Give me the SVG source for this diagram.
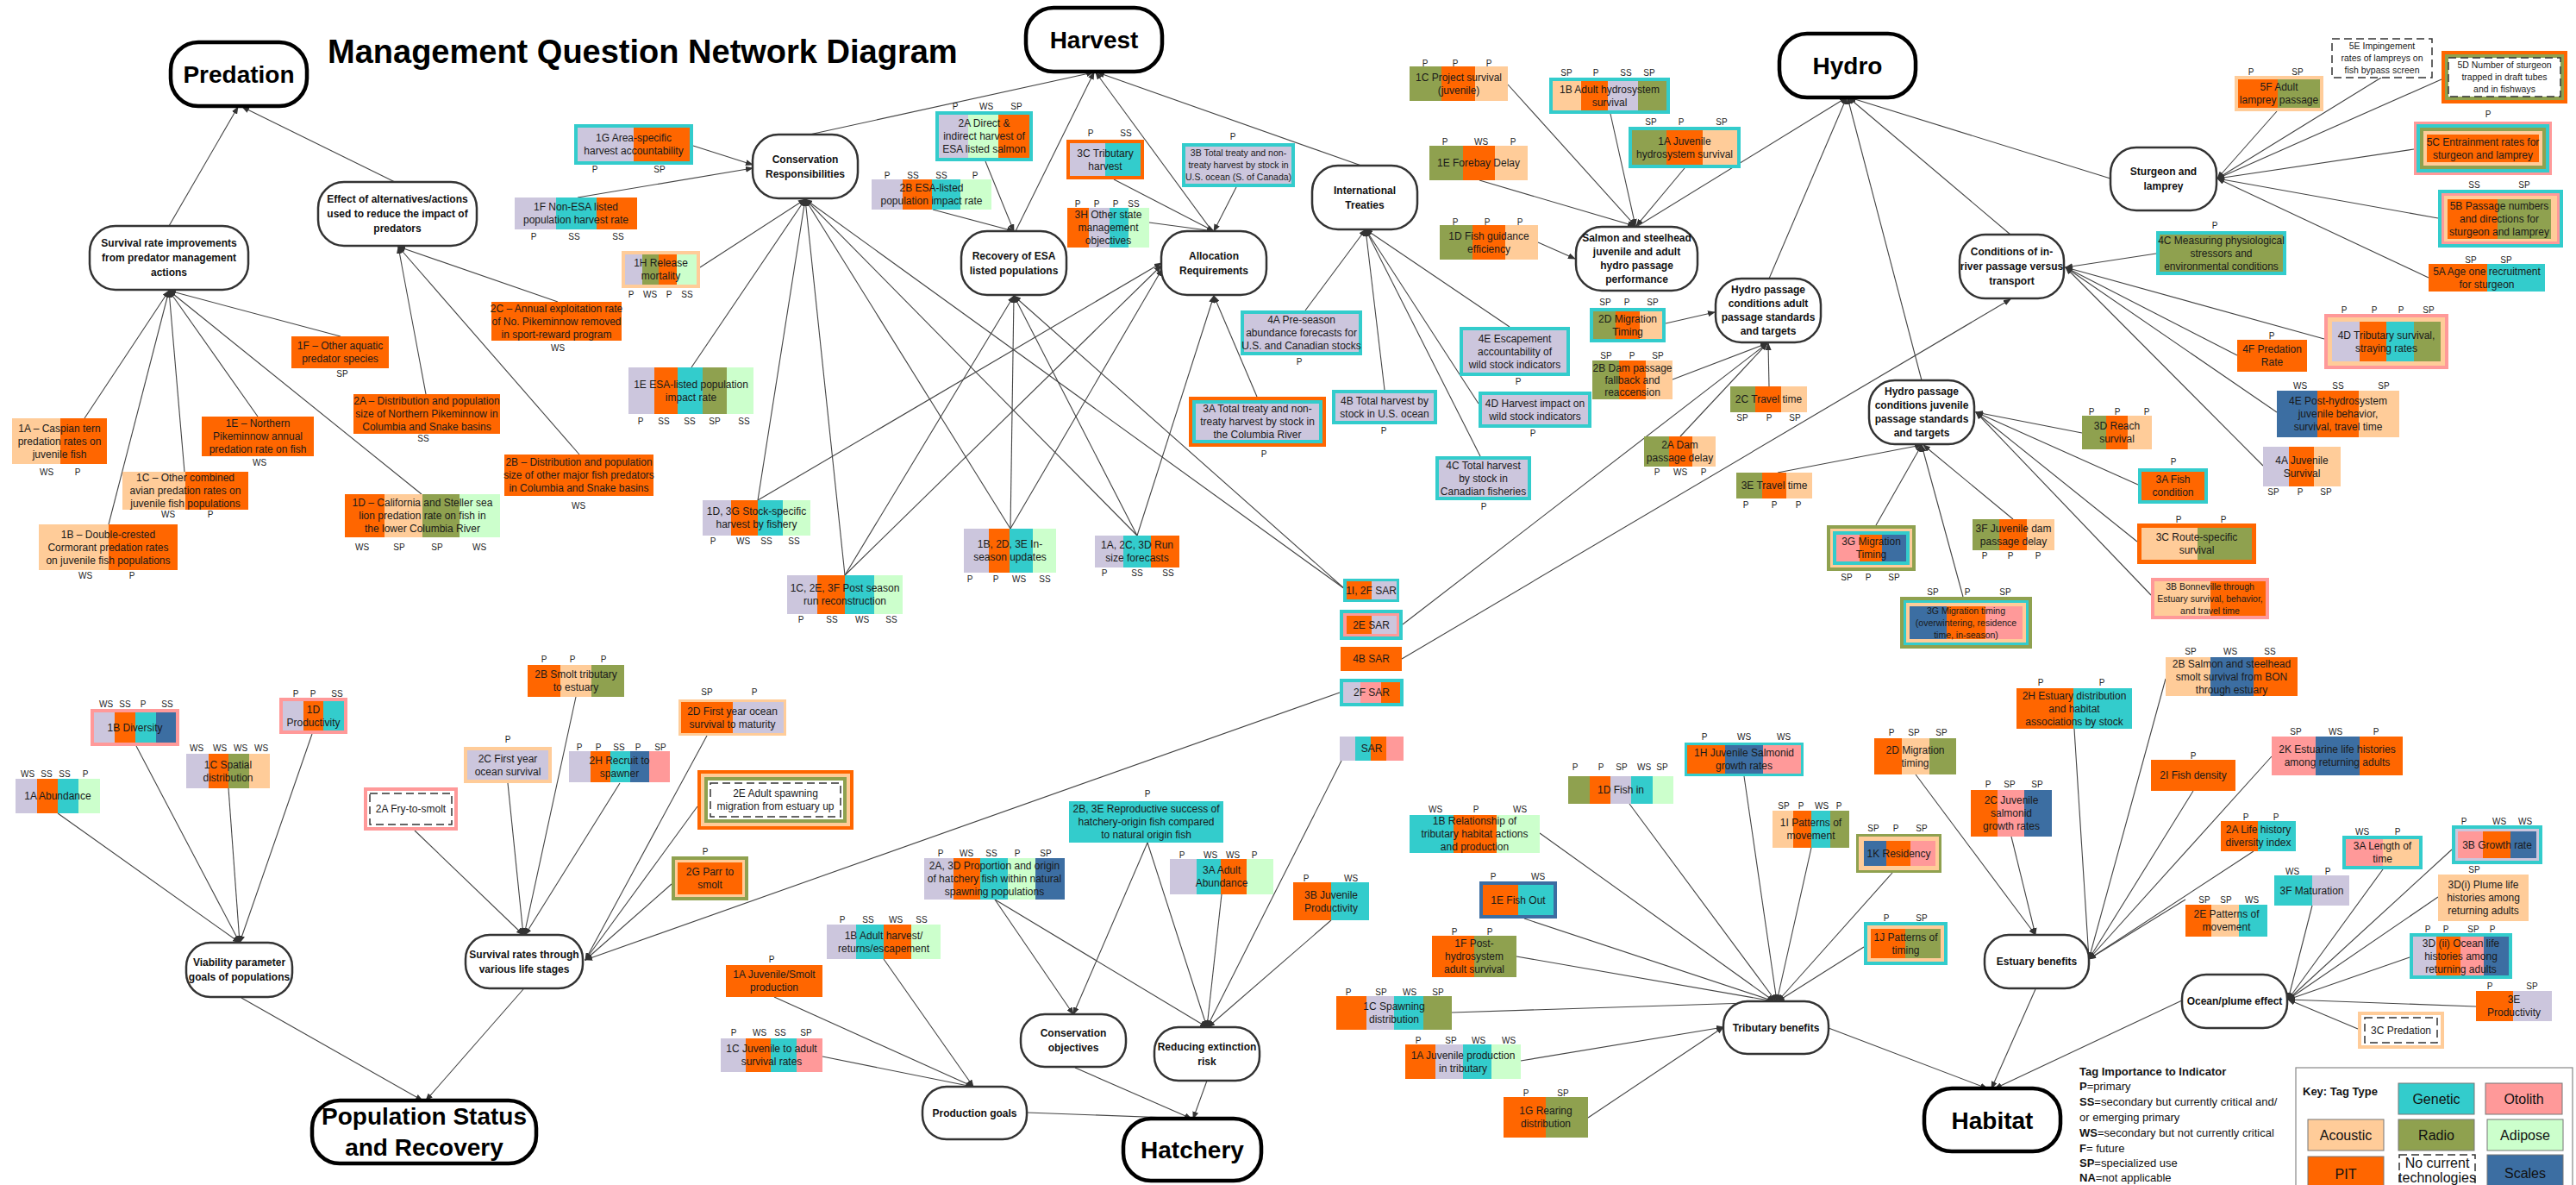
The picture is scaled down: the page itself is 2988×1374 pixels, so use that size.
<svg xmlns="http://www.w3.org/2000/svg" width="2988" height="1374" viewBox="0 0 2988 1374">
<defs>
<marker id="ah" markerUnits="userSpaceOnUse" markerWidth="9" markerHeight="7" refX="8" refY="3.5" orient="auto"><path d="M0,0 L9,3.5 L0,7 z" fill="#333"/></marker>
<style>
.gen{fill:#33CCCC}.oto{fill:#FF9999}.aco{fill:#FFCC99}.rad{fill:#8FA14F}.adi{fill:#CCFFCC}.pit{fill:#FF6600}.sca{fill:#3C6EA2}.lav{fill:#CCC6DD}.wht{fill:#fff}
.d{fill:#fff;stroke:#333;stroke-width:1.5;stroke-dasharray:9 5}
.i{font-family:'Liberation Sans',Arial,sans-serif;font-size:12px;fill:#1a1a1a;text-anchor:middle}
.sm{font-size:10.5px}
.s{font-family:'Liberation Sans',Arial,sans-serif;font-size:10px;fill:#222;text-anchor:middle}
.n{fill:#fff;stroke:#333;stroke-width:2.5}
.N{fill:#fff;stroke:#000;stroke-width:4.5}
.nt{font-family:'Liberation Sans',Arial,sans-serif;font-size:12px;font-weight:bold;fill:#111;text-anchor:middle}
.bt{font-family:'Liberation Sans',Arial,sans-serif;font-size:28px;font-weight:bold;fill:#000;text-anchor:middle}
.c line{stroke:#444;stroke-width:1.1;marker-end:url(#ah)}
.lg{font-family:'Liberation Sans',Arial,sans-serif;font-size:13px;fill:#111}
.kt{font-family:'Liberation Sans',Arial,sans-serif;font-size:16px;fill:#111;text-anchor:middle}
.kb{stroke:#777;stroke-width:1}
</style>
</defs>
<rect width="2988" height="1374" fill="#fff"/>
<text x="380" y="73" font-family="'Liberation Sans',Arial,sans-serif" font-size="38" font-weight="bold" fill="#000">Management Question Network Diagram</text>

<g id="connectors" class="c">
<line x1="196" y1="262" x2="276" y2="124"/><line x1="458" y1="211" x2="281" y2="124"/>
<line x1="98" y1="485" x2="196" y2="337"/><line x1="126" y1="608" x2="196" y2="337"/><line x1="214" y1="547" x2="196" y2="337"/><line x1="299" y1="483" x2="196" y2="337"/><line x1="489" y1="573" x2="196" y2="337"/><line x1="395" y1="390" x2="196" y2="337"/>
<line x1="494" y1="457" x2="462" y2="286"/><line x1="672" y1="527" x2="462" y2="286"/><line x1="647" y1="350" x2="462" y2="286"/>
<line x1="939" y1="156" x2="1268" y2="84"/><line x1="1178" y1="268" x2="1269" y2="84"/><line x1="1406" y1="268" x2="1271" y2="84"/><line x1="1579" y1="192" x2="1273" y2="84"/>
<line x1="804" y1="169" x2="873" y2="191"/><line x1="670" y1="229" x2="873" y2="195"/><line x1="812" y1="310" x2="934" y2="231"/>
<line x1="802" y1="426" x2="934" y2="231"/><line x1="879" y1="580" x2="934" y2="231"/><line x1="980" y1="667" x2="934" y2="231"/><line x1="1172" y1="613" x2="934" y2="231"/><line x1="1319" y1="621" x2="934" y2="231"/><line x1="1560" y1="683" x2="934" y2="231"/>
<line x1="980" y1="667" x2="1176" y2="343"/><line x1="1172" y1="613" x2="1176" y2="343"/><line x1="1319" y1="621" x2="1176" y2="343"/><line x1="1560" y1="683" x2="1176" y2="343"/>
<line x1="879" y1="580" x2="1347" y2="305"/><line x1="980" y1="667" x2="1347" y2="308"/><line x1="1172" y1="613" x2="1348" y2="312"/><line x1="1319" y1="621" x2="1408" y2="343"/><line x1="1458" y1="460" x2="1408" y2="343"/>
<line x1="1434" y1="217" x2="1408" y2="268"/><line x1="1292" y1="208" x2="1408" y2="268"/><line x1="1333" y1="258" x2="1408" y2="268"/>
<line x1="1143" y1="187" x2="1176" y2="268"/><line x1="1082" y1="243" x2="1176" y2="268"/>
<line x1="1514" y1="360" x2="1584" y2="266"/><line x1="1606" y1="452" x2="1584" y2="266"/><line x1="1717" y1="529" x2="1584" y2="266"/><line x1="1715" y1="468" x2="1584" y2="266"/><line x1="1751" y1="379" x2="1584" y2="266"/>
<line x1="1898" y1="263" x2="2142" y2="113"/><line x1="2052" y1="323" x2="2142" y2="113"/><line x1="2229" y1="441" x2="2143" y2="113"/><line x1="2332" y1="272" x2="2144" y2="113"/><line x1="2448" y1="207" x2="2145" y2="113"/>
<line x1="1749" y1="98" x2="1897" y2="262"/><line x1="1868" y1="132" x2="1897" y2="262"/><line x1="1954" y1="195" x2="1898" y2="262"/><line x1="1716" y1="209" x2="1896" y2="262"/><line x1="1784" y1="281" x2="1827" y2="300"/>
<line x1="1932" y1="375" x2="1989" y2="362"/><line x1="1940" y1="440" x2="2050" y2="398"/><line x1="2052" y1="448" x2="2051" y2="398"/><line x1="1949" y1="506" x2="2050" y2="398"/><line x1="1627" y1="724" x2="2050" y2="398"/>
<line x1="2062" y1="548" x2="2229" y2="516"/><line x1="2176" y1="609" x2="2229" y2="516"/><line x1="2277" y1="692" x2="2229" y2="516"/><line x1="2335" y1="602" x2="2231" y2="516"/>
<line x1="2415" y1="502" x2="2292" y2="478"/><line x1="2480" y1="562" x2="2292" y2="478"/><line x1="2479" y1="628" x2="2292" y2="478"/><line x1="2495" y1="690" x2="2292" y2="478"/>
<line x1="2501" y1="294" x2="2396" y2="310"/><line x1="2696" y1="393" x2="2396" y2="310"/><line x1="2595" y1="412" x2="2396" y2="310"/><line x1="2641" y1="478" x2="2396" y2="310"/><line x1="2625" y1="540" x2="2396" y2="310"/>
<line x1="1626" y1="764" x2="2332" y2="347"/>
<line x1="2641" y1="129" x2="2572" y2="207"/><line x1="2762" y1="90" x2="2572" y2="207"/><line x1="2832" y1="92" x2="2572" y2="207"/><line x1="2800" y1="173" x2="2572" y2="207"/><line x1="2828" y1="253" x2="2572" y2="207"/><line x1="2817" y1="322" x2="2572" y2="207"/>
<line x1="1786" y1="966" x2="2058" y2="1161"/><line x1="1768" y1="1065" x2="2058" y2="1161"/><line x1="1759" y1="1109" x2="2058" y2="1161"/><line x1="1890" y1="932" x2="2060" y2="1161"/><line x1="2023" y1="900" x2="2061" y2="1161"/><line x1="2101" y1="983" x2="2061" y2="1161"/><line x1="2195" y1="1012" x2="2062" y2="1161"/><line x1="2162" y1="1098" x2="2062" y2="1161"/>
<line x1="1684" y1="1174" x2="2056" y2="1162"/><line x1="1764" y1="1230" x2="1999" y2="1191"/><line x1="1842" y1="1296" x2="1999" y2="1191"/>
<line x1="2121" y1="1192" x2="2305" y2="1262"/>
<line x1="2406" y1="845" x2="2423" y2="1112"/><line x1="2512" y1="787" x2="2423" y2="1112"/><line x1="2544" y1="917" x2="2423" y2="1112"/><line x1="2635" y1="877" x2="2423" y2="1112"/><line x1="2614" y1="987" x2="2423" y2="1112"/><line x1="2535" y1="1043" x2="2423" y2="1112"/>
<line x1="2222" y1="898" x2="2361" y2="1084"/><line x1="2333" y1="970" x2="2361" y2="1084"/>
<line x1="2361" y1="1147" x2="2310" y2="1262"/><line x1="2531" y1="1160" x2="2314" y2="1262"/>
<line x1="2682" y1="1050" x2="2654" y2="1159"/><line x1="2764" y1="1008" x2="2654" y2="1159"/><line x1="2844" y1="985" x2="2654" y2="1159"/><line x1="2828" y1="1040" x2="2654" y2="1159"/><line x1="2795" y1="1110" x2="2654" y2="1159"/><line x1="2872" y1="1167" x2="2654" y2="1159"/><line x1="2735" y1="1193" x2="2654" y2="1159"/>
<line x1="67" y1="943" x2="278" y2="1093"/><line x1="158" y1="865" x2="278" y2="1093"/><line x1="265" y1="914" x2="278" y2="1093"/><line x1="362" y1="851" x2="278" y2="1093"/>
<line x1="280" y1="1157" x2="490" y2="1276"/><line x1="607" y1="1147" x2="494" y2="1276"/>
<line x1="481" y1="963" x2="607" y2="1084"/><line x1="589" y1="908" x2="607" y2="1084"/><line x1="668" y1="808" x2="608" y2="1084"/><line x1="719" y1="908" x2="609" y2="1084"/>
<line x1="820" y1="853" x2="679" y2="1113"/><line x1="809" y1="935" x2="679" y2="1113"/><line x1="779" y1="1025" x2="679" y2="1113"/><line x1="1554" y1="803" x2="679" y2="1113"/>
<line x1="898" y1="1156" x2="1129" y2="1260"/><line x1="1025" y1="1112" x2="1129" y2="1260"/><line x1="954" y1="1225" x2="1128" y2="1260"/>
<line x1="1191" y1="1290" x2="1382" y2="1297"/><line x1="1247" y1="1238" x2="1382" y2="1297"/><line x1="1400" y1="1253" x2="1384" y2="1297"/>
<line x1="1154" y1="1043" x2="1245" y2="1176"/><line x1="1331" y1="977" x2="1245" y2="1176"/>
<line x1="1154" y1="1043" x2="1400" y2="1191"/><line x1="1331" y1="977" x2="1400" y2="1191"/><line x1="1417" y1="1037" x2="1400" y2="1191"/><line x1="1556" y1="882" x2="1400" y2="1191"/><line x1="1544" y1="1067" x2="1401" y2="1191"/>
</g>

<!-- Major nodes -->
<g id="predation"><rect class="N" x="198" y="49" width="158" height="74" rx="32"/><text class="bt" x="277" y="96">Predation</text></g>
<g id="harvest"><rect class="N" x="1190" y="9" width="158" height="74" rx="32"/><text class="bt" x="1269" y="56">Harvest</text></g>
<g id="hydro"><rect class="N" x="2064" y="39" width="158" height="74" rx="32"/><text class="bt" x="2143" y="86">Hydro</text></g>
<g id="popstatus"><rect class="N" x="362" y="1276" width="260" height="73" rx="32"/><text class="bt" x="492" y="1304" font-size="30">Population Status</text><text class="bt" x="492" y="1340" font-size="30">and Recovery</text></g>
<g id="hatchery"><rect class="N" x="1303" y="1297" width="160" height="72" rx="32"/><text class="bt" x="1383" y="1343" font-size="31">Hatchery</text></g>
<g id="habitat"><rect class="N" x="2232" y="1262" width="158" height="73" rx="32"/><text class="bt" x="2311" y="1309" font-size="31">Habitat</text></g>

<!-- Mid nodes -->
<g id="n-survimp"><rect class="n" x="104" y="262" width="184" height="74" rx="30"/><text class="nt" y="286"><tspan x="196">Survival rate improvements</tspan><tspan x="196" dy="17">from predator management</tspan><tspan x="196" dy="17">actions</tspan></text></g>
<g id="n-effect"><rect class="n" x="369" y="211" width="184" height="74" rx="30"/><text class="nt" y="235"><tspan x="461">Effect of alternatives/actions</tspan><tspan x="461" dy="17">used to reduce the impact of</tspan><tspan x="461" dy="17">predators</tspan></text></g>
<g id="n-consresp"><rect class="n" x="873" y="156" width="122" height="74" rx="30"/><text class="nt" y="188.5"><tspan x="934">Conservation</tspan><tspan x="934" dy="17">Responsibilities</tspan></text></g>
<g id="n-recovery"><rect class="n" x="1115" y="268" width="122" height="74" rx="30"/><text class="nt" y="300.5"><tspan x="1176">Recovery of ESA</tspan><tspan x="1176" dy="17">listed populations</tspan></text></g>
<g id="n-alloc"><rect class="n" x="1347" y="268" width="122" height="74" rx="30"/><text class="nt" y="300.5"><tspan x="1408">Allocation</tspan><tspan x="1408" dy="17">Requirements</tspan></text></g>
<g id="n-intl"><rect class="n" x="1522" y="192" width="122" height="74" rx="30"/><text class="nt" y="224.5"><tspan x="1583">International</tspan><tspan x="1583" dy="17">Treaties</tspan></text></g>
<g id="n-salmon"><rect class="n" x="1828" y="263" width="141" height="74" rx="30"/><text class="nt" y="280"><tspan x="1898.5">Salmon and steelhead</tspan><tspan x="1898.5" dy="16">juvenile and adult</tspan><tspan x="1898.5" dy="16">hydro passage</tspan><tspan x="1898.5" dy="16">performance</tspan></text></g>
<g id="n-hpadult"><rect class="n" x="1990" y="323" width="122" height="74" rx="30"/><text class="nt" y="340"><tspan x="2051">Hydro passage</tspan><tspan x="2051" dy="16">conditions adult</tspan><tspan x="2051" dy="16">passage standards</tspan><tspan x="2051" dy="16">and targets</tspan></text></g>
<g id="n-hpjuv"><rect class="n" x="2168" y="441" width="122" height="74" rx="30"/><text class="nt" y="458"><tspan x="2229">Hydro passage</tspan><tspan x="2229" dy="16">conditions juvenile</tspan><tspan x="2229" dy="16">passage standards</tspan><tspan x="2229" dy="16">and targets</tspan></text></g>
<g id="n-sturgeon"><rect class="n" x="2448" y="171" width="123" height="73" rx="30"/><text class="nt" y="203"><tspan x="2509.5">Sturgeon and</tspan><tspan x="2509.5" dy="17">lamprey</tspan></text></g>
<g id="n-conditions"><rect class="n" x="2273" y="272" width="121" height="74" rx="30"/><text class="nt" y="296"><tspan x="2333.5">Conditions of in-</tspan><tspan x="2333.5" dy="17">river passage versus</tspan><tspan x="2333.5" dy="17">transport</tspan></text></g>
<g id="n-viability"><rect class="n" x="216" y="1093" width="123" height="63" rx="28"/><text class="nt" y="1120"><tspan x="277.5">Viability parameter</tspan><tspan x="277.5" dy="17">goals of populations</tspan></text></g>
<g id="n-survrates"><rect class="n" x="540" y="1084" width="136" height="62" rx="28"/><text class="nt" y="1110.5"><tspan x="608">Survival rates through</tspan><tspan x="608" dy="17">various life stages</tspan></text></g>
<g id="n-prodgoals"><rect class="n" x="1070" y="1260" width="121" height="61" rx="28"/><text class="nt" x="1130.5" y="1294.5">Production goals</text></g>
<g id="n-consobj"><rect class="n" x="1184" y="1176" width="122" height="61" rx="28"/><text class="nt" y="1202"><tspan x="1245">Conservation</tspan><tspan x="1245" dy="17">objectives</tspan></text></g>
<g id="n-reducing"><rect class="n" x="1339" y="1191" width="122" height="62" rx="28"/><text class="nt" y="1217.5"><tspan x="1400">Reducing extinction</tspan><tspan x="1400" dy="17">risk</tspan></text></g>
<g id="n-tributary"><rect class="n" x="1999" y="1161" width="122" height="61" rx="28"/><text class="nt" x="2060" y="1195.5">Tributary benefits</text></g>
<g id="n-estuary"><rect class="n" x="2302" y="1084" width="121" height="62" rx="28"/><text class="nt" x="2362.5" y="1119">Estuary benefits</text></g>
<g id="n-ocean"><rect class="n" x="2531" y="1130" width="122" height="62" rx="28"/><text class="nt" x="2592" y="1165">Ocean/plume effect</text></g>

<!-- Predation indicators -->
<g id="pr-1A"><rect class="aco" x="14" y="485" width="56" height="53"/><rect class="pit" x="70" y="485" width="54" height="53"/><text class="i" y="500.5"><tspan x="69">1A – Caspian tern</tspan><tspan x="69" dy="15">predation rates on</tspan><tspan x="69" dy="15">juvenile fish</tspan></text><text class="s" y="551"><tspan x="54">WS</tspan><tspan x="90">P</tspan></text></g>
<g id="pr-1E"><rect class="pit" x="234" y="483" width="130" height="46"/><text class="i" y="495"><tspan x="299">1E – Northern</tspan><tspan x="299" dy="15">Pikeminnow annual</tspan><tspan x="299" dy="15">predation rate on fish</tspan></text><text class="s" x="301" y="540">WS</text></g>
<g id="pr-2A"><rect class="pit" x="410" y="457" width="170" height="46"/><text class="i" y="469" font-size="11"><tspan x="495">2A – Distribution and population</tspan><tspan x="495" dy="15">size of Northern Pikeminnow in</tspan><tspan x="495" dy="15">Columbia and Snake basins</tspan></text><text class="s" x="491" y="512">SS</text></g>
<g id="pr-1C"><rect class="aco" x="142" y="547" width="73" height="44"/><rect class="pit" x="215" y="547" width="73" height="44"/><text class="i" y="558"><tspan x="215">1C – Other combined</tspan><tspan x="215" dy="15">avian predation rates on</tspan><tspan x="215" dy="15">juvenile fish populations</tspan></text><text class="s" y="600"><tspan x="195">WS</tspan><tspan x="244">P</tspan></text></g>
<g id="pr-2B"><rect class="pit" x="585" y="527" width="173" height="48"/><text class="i" y="540" font-size="11"><tspan x="671.5">2B – Distribution and population</tspan><tspan x="671.5" dy="15">size of other major fish predators</tspan><tspan x="671.5" dy="15">in Columbia and Snake basins</tspan></text><text class="s" x="671" y="590">WS</text></g>
<g id="pr-1D"><rect class="pit" x="400" y="573" width="46" height="50"/><rect class="aco" x="446" y="573" width="44" height="50"/><rect class="rad" x="490" y="573" width="43" height="50"/><rect class="adi" x="533" y="573" width="47" height="50"/><text class="i" y="587"><tspan x="490">1D – California and Steller sea</tspan><tspan x="490" dy="15">lion predation rate on fish in</tspan><tspan x="490" dy="15">the lower Columbia River</tspan></text><text class="s" y="638"><tspan x="420">WS</tspan><tspan x="463">SP</tspan><tspan x="507">SP</tspan><tspan x="556">WS</tspan></text></g>
<g id="pr-1B"><rect class="aco" x="45" y="608" width="81" height="53"/><rect class="pit" x="126" y="608" width="80" height="53"/><text class="i" y="623.5"><tspan x="125.5">1B – Double-crested</tspan><tspan x="125.5" dy="15">Cormorant predation rates</tspan><tspan x="125.5" dy="15">on juvenile fish populations</tspan></text><text class="s" y="671"><tspan x="99">WS</tspan><tspan x="153">P</tspan></text></g>
<g id="pr-1F"><rect class="pit" x="338" y="390" width="113" height="37"/><text class="i" y="405"><tspan x="394.5">1F – Other aquatic</tspan><tspan x="394.5" dy="15">predator species</tspan></text><text class="s" x="397" y="437">SP</text></g>
<g id="pr-2C"><rect class="pit" x="570" y="350" width="151" height="45"/><text class="i" y="361.5" font-size="11"><tspan x="645.5">2C – Annual exploitation rate</tspan><tspan x="645.5" dy="15">of No. Pikeminnow removed</tspan><tspan x="645.5" dy="15">in sport-reward program</tspan></text><text class="s" x="647" y="407">WS</text></g>

<!-- Harvest indicators -->
<g id="hv-1G"><rect class="gen" x="666" y="144" width="138" height="47"/><rect class="lav" x="670" y="148" width="65" height="39"/><rect class="pit" x="735" y="148" width="65" height="39"/><text class="i" y="164"><tspan x="735">1G Area-specific</tspan><tspan x="735" dy="15">harvest accountability</tspan></text><text class="s" y="200"><tspan x="690">P</tspan><tspan x="765">SP</tspan></text></g>
<g id="hv-1F"><rect class="lav" x="597" y="229" width="48" height="37"/><rect class="gen" x="645" y="229" width="47" height="37"/><rect class="pit" x="692" y="229" width="47" height="37"/><text class="i" y="244"><tspan x="668">1F Non-ESA listed</tspan><tspan x="668" dy="15">population harvest rate</tspan></text><text class="s" y="278"><tspan x="619">P</tspan><tspan x="666">SS</tspan><tspan x="717">SS</tspan></text></g>
<g id="hv-1H"><rect class="aco" x="721" y="291" width="91" height="43"/><rect class="lav" x="725" y="295" width="20" height="35"/><rect class="rad" x="745" y="295" width="19" height="35"/><rect class="pit" x="764" y="295" width="21" height="35"/><rect class="adi" x="785" y="295" width="23" height="35"/><text class="i" y="309"><tspan x="766.5">1H Release</tspan><tspan x="766.5" dy="15">mortality</tspan></text><text class="s" y="345"><tspan x="732">P</tspan><tspan x="754">WS</tspan><tspan x="776">P</tspan><tspan x="797">SS</tspan></text></g>
<g id="hv-1E"><rect class="lav" x="729" y="426" width="30" height="54"/><rect class="pit" x="759" y="426" width="27" height="54"/><rect class="gen" x="786" y="426" width="29" height="54"/><rect class="rad" x="815" y="426" width="28" height="54"/><rect class="adi" x="843" y="426" width="31" height="54"/><text class="i" y="449.5"><tspan x="801.5">1E ESA-listed population</tspan><tspan x="801.5" dy="15">impact rate</tspan></text><text class="s" y="492"><tspan x="743">P</tspan><tspan x="770">SS</tspan><tspan x="800">SS</tspan><tspan x="829">SP</tspan><tspan x="863">SS</tspan></text></g>
<g id="hv-2A"><rect class="gen" x="1085" y="129" width="113" height="58"/><rect class="lav" x="1089" y="133" width="34" height="50"/><rect class="adi" x="1123" y="133" width="35" height="50"/><rect class="pit" x="1158" y="133" width="36" height="50"/><text class="i" y="147"><tspan x="1141.5">2A Direct &amp;</tspan><tspan x="1141.5" dy="15">indirect harvest of</tspan><tspan x="1141.5" dy="15">ESA listed salmon</tspan></text><text class="s" y="126.5"><tspan x="1108">P</tspan><tspan x="1144">WS</tspan><tspan x="1179">SP</tspan></text></g>
<g id="hv-2B"><rect class="lav" x="1011" y="208" width="36" height="35"/><rect class="pit" x="1047" y="208" width="34" height="35"/><rect class="gen" x="1081" y="208" width="33" height="35"/><rect class="adi" x="1114" y="208" width="36" height="35"/><text class="i" y="222"><tspan x="1080.5">2B ESA-listed</tspan><tspan x="1080.5" dy="15">population impact rate</tspan></text><text class="s" y="206.5"><tspan x="1029">P</tspan><tspan x="1059">SS</tspan><tspan x="1092">SS</tspan><tspan x="1131">P</tspan></text></g>
<g id="hv-3C"><rect class="pit" x="1237" y="162" width="90" height="46"/><rect class="lav" x="1241" y="166" width="41" height="38"/><rect class="gen" x="1282" y="166" width="41" height="38"/><text class="i" y="181.5"><tspan x="1282">3C Tributary</tspan><tspan x="1282" dy="15">harvest</tspan></text><text class="s" y="158"><tspan x="1265">P</tspan><tspan x="1306">SS</tspan></text></g>
<g id="hv-3H"><rect class="pit" x="1238" y="241" width="25" height="46"/><rect class="lav" x="1263" y="241" width="24" height="46"/><rect class="gen" x="1287" y="241" width="22" height="46"/><rect class="adi" x="1309" y="241" width="24" height="46"/><text class="i" y="253"><tspan x="1285.5">3H Other state</tspan><tspan x="1285.5" dy="15">management</tspan><tspan x="1285.5" dy="15">objectives</tspan></text><text class="s" y="239.5"><tspan x="1250">P</tspan><tspan x="1272">P</tspan><tspan x="1294">P</tspan><tspan x="1315">SS</tspan></text></g>
<g id="hv-3B"><rect class="gen" x="1371" y="166" width="131" height="51"/><rect class="lav" x="1375" y="170" width="123" height="43"/><text class="i sm" y="181"><tspan x="1436.5">3B Total treaty and non-</tspan><tspan x="1436.5" dy="14">treaty harvest by stock in</tspan><tspan x="1436.5" dy="14">U.S. ocean (S. of Canada)</tspan></text><text class="s" x="1430" y="161.5">P</text></g>
<g id="hv-4A"><rect class="gen" x="1439" y="360" width="141" height="52"/><rect class="lav" x="1443" y="364" width="133" height="44"/><text class="i" y="375"><tspan x="1509.5">4A Pre-season</tspan><tspan x="1509.5" dy="15">abundance forecasts for</tspan><tspan x="1509.5" dy="15">U.S. and Canadian stocks</tspan></text><text class="s" x="1507" y="423">P</text></g>
<g id="hv-3A"><rect class="pit" x="1379" y="460" width="159" height="58"/><rect class="gen" x="1383" y="464" width="151" height="50"/><rect class="lav" x="1387" y="468" width="143" height="42"/><text class="i" y="478"><tspan x="1458.5">3A Total treaty and non-</tspan><tspan x="1458.5" dy="15">treaty harvest by stock in</tspan><tspan x="1458.5" dy="15">the Columbia River</tspan></text><text class="s" x="1466" y="530">P</text></g>
<g id="hv-4B"><rect class="gen" x="1545" y="452" width="122" height="40"/><rect class="lav" x="1549" y="456" width="114" height="32"/><text class="i" y="468.5"><tspan x="1606">4B Total harvest by</tspan><tspan x="1606" dy="15">stock in U.S. ocean</tspan></text><text class="s" x="1605" y="503">P</text></g>
<g id="hv-4D"><rect class="gen" x="1715" y="454" width="131" height="42"/><rect class="lav" x="1719" y="458" width="123" height="34"/><text class="i" y="471.5"><tspan x="1780.5">4D Harvest impact on</tspan><tspan x="1780.5" dy="15">wild stock indicators</tspan></text><text class="s" x="1778" y="506">P</text></g>
<g id="hv-4C"><rect class="gen" x="1665" y="529" width="111" height="51"/><rect class="lav" x="1669" y="533" width="103" height="43"/><text class="i" y="543.5"><tspan x="1720.5">4C Total harvest</tspan><tspan x="1720.5" dy="15">by stock in</tspan><tspan x="1720.5" dy="15">Canadian fisheries</tspan></text><text class="s" x="1721" y="591">P</text></g>
<g id="hv-4E"><rect class="gen" x="1693" y="379" width="128" height="57"/><rect class="lav" x="1697" y="383" width="120" height="49"/><text class="i" y="396.5"><tspan x="1757">4E Escapement</tspan><tspan x="1757" dy="15">accountability of</tspan><tspan x="1757" dy="15">wild stock indicators</tspan></text><text class="s" x="1761" y="446">P</text></g>
<g id="hv-1D3G"><rect class="lav" x="815" y="580" width="33" height="41"/><rect class="pit" x="848" y="580" width="31" height="41"/><rect class="gen" x="879" y="580" width="29" height="41"/><rect class="adi" x="908" y="580" width="32" height="41"/><text class="i" y="597"><tspan x="877.5">1D, 3G Stock-specific</tspan><tspan x="877.5" dy="15">harvest by fishery</tspan></text><text class="s" y="631"><tspan x="827">P</tspan><tspan x="862">WS</tspan><tspan x="889">SS</tspan><tspan x="921">SS</tspan></text></g>
<g id="hv-1C2E3F"><rect class="lav" x="913" y="667" width="35" height="45"/><rect class="pit" x="948" y="667" width="32" height="45"/><rect class="gen" x="980" y="667" width="34" height="45"/><rect class="adi" x="1014" y="667" width="33" height="45"/><text class="i" y="686"><tspan x="980">1C, 2E, 3F Post season</tspan><tspan x="980" dy="15">run reconstruction</tspan></text><text class="s" y="722"><tspan x="929">P</tspan><tspan x="965">SS</tspan><tspan x="1000">WS</tspan><tspan x="1034">SS</tspan></text></g>
<g id="hv-1B2D3E"><rect class="lav" x="1118" y="613" width="29" height="51"/><rect class="pit" x="1147" y="613" width="24" height="51"/><rect class="gen" x="1171" y="613" width="27" height="51"/><rect class="adi" x="1198" y="613" width="27" height="51"/><text class="i" y="635"><tspan x="1171.5">1B, 2D, 3E In-</tspan><tspan x="1171.5" dy="15">season updates</tspan></text><text class="s" y="675"><tspan x="1125">P</tspan><tspan x="1155">P</tspan><tspan x="1182">WS</tspan><tspan x="1212">SS</tspan></text></g>
<g id="hv-1A2C3D"><rect class="lav" x="1270" y="621" width="33" height="37"/><rect class="gen" x="1303" y="621" width="32" height="37"/><rect class="pit" x="1335" y="621" width="33" height="37"/><text class="i" y="636"><tspan x="1319">1A, 2C, 3D Run</tspan><tspan x="1319" dy="15">size forecasts</tspan></text><text class="s" y="668"><tspan x="1281">P</tspan><tspan x="1319">SS</tspan><tspan x="1355">SS</tspan></text></g>

<!-- SAR -->
<g id="sar-1I2F"><rect class="gen" x="1558" y="671" width="65" height="27"/><rect class="pit" x="1562" y="674" width="29" height="21"/><rect class="lav" x="1591" y="674" width="29" height="21"/><text class="i" x="1590.5" y="688.5">1I, 2F SAR</text></g>
<g id="sar-2E"><rect class="gen" x="1554" y="707" width="73" height="35"/><rect class="oto" x="1558" y="711" width="65" height="27"/><rect class="pit" x="1562" y="714" width="29" height="21"/><rect class="lav" x="1591" y="714" width="29" height="21"/><text class="i" x="1590.5" y="728.5">2E SAR</text></g>
<g id="sar-4B"><rect class="pit" x="1555" y="750" width="71" height="28"/><text class="i" x="1590.5" y="768">4B SAR</text></g>
<g id="sar-2F"><rect class="gen" x="1554" y="787" width="74" height="32"/><rect class="lav" x="1558" y="791" width="20" height="24"/><rect class="oto" x="1578" y="791" width="24" height="24"/><rect class="pit" x="1602" y="791" width="22" height="24"/><text class="i" x="1591" y="807">2F SAR</text></g>
<g id="sar-x"><rect class="lav" x="1554" y="854" width="18" height="28"/><rect class="gen" x="1572" y="854" width="18" height="28"/><rect class="pit" x="1590" y="854" width="18" height="28"/><rect class="oto" x="1608" y="854" width="20" height="28"/><text class="i" x="1591" y="872">SAR</text></g>

<!-- Hydro indicators -->
<g id="hy-1C"><rect class="rad" x="1635" y="77" width="37" height="40"/><rect class="pit" x="1672" y="77" width="39" height="40"/><rect class="aco" x="1711" y="77" width="38" height="40"/><text class="i" y="93.5"><tspan x="1692">1C Project survival</tspan><tspan x="1692" dy="15">(juvenile)</tspan></text><text class="s" y="76.5"><tspan x="1653">P</tspan><tspan x="1688">P</tspan><tspan x="1727">P</tspan></text></g>
<g id="hy-1B"><rect class="gen" x="1797" y="90" width="140" height="42"/><rect class="aco" x="1801" y="94" width="33" height="34"/><rect class="pit" x="1834" y="94" width="31" height="34"/><rect class="lav" x="1865" y="94" width="35" height="34"/><rect class="rad" x="1900" y="94" width="33" height="34"/><text class="i" y="107.5"><tspan x="1867">1B Adult hydrosystem</tspan><tspan x="1867" dy="15">survival</tspan></text><text class="s" y="87.5"><tspan x="1817">SP</tspan><tspan x="1851">P</tspan><tspan x="1886">SS</tspan><tspan x="1913">SP</tspan></text></g>
<g id="hy-1A"><rect class="gen" x="1889" y="147" width="130" height="48"/><rect class="rad" x="1893" y="151" width="40" height="40"/><rect class="pit" x="1933" y="151" width="42" height="40"/><rect class="aco" x="1975" y="151" width="40" height="40"/><text class="i" y="167.5"><tspan x="1954">1A Juvenile</tspan><tspan x="1954" dy="15">hydrosystem survival</tspan></text><text class="s" y="144.5"><tspan x="1915">SP</tspan><tspan x="1950">P</tspan><tspan x="1997">SP</tspan></text></g>
<g id="hy-1E"><rect class="rad" x="1658" y="169" width="39" height="40"/><rect class="pit" x="1697" y="169" width="37" height="40"/><rect class="aco" x="1734" y="169" width="38" height="40"/><text class="i" x="1715" y="193">1E Forebay Delay</text><text class="s" y="167.5"><tspan x="1676">P</tspan><tspan x="1718">WS</tspan><tspan x="1755">P</tspan></text></g>
<g id="hy-1D"><rect class="rad" x="1670" y="261" width="38" height="40"/><rect class="pit" x="1708" y="261" width="38" height="40"/><rect class="aco" x="1746" y="261" width="38" height="40"/><text class="i" y="277.5"><tspan x="1727">1D Fish guidance</tspan><tspan x="1727" dy="15">efficiency</tspan></text><text class="s" y="260.5"><tspan x="1688">P</tspan><tspan x="1725">P</tspan><tspan x="1763">P</tspan></text></g>
<g id="hy-2D"><rect class="gen" x="1844" y="357" width="88" height="40"/><rect class="rad" x="1848" y="361" width="26" height="32"/><rect class="pit" x="1874" y="361" width="28" height="32"/><rect class="aco" x="1902" y="361" width="26" height="32"/><text class="i" y="373.5"><tspan x="1888">2D Migration</tspan><tspan x="1888" dy="15">Timing</tspan></text><text class="s" y="353.5"><tspan x="1862">SP</tspan><tspan x="1887">P</tspan><tspan x="1917">SP</tspan></text></g>
<g id="hy-2B"><rect class="rad" x="1847" y="418" width="31" height="45"/><rect class="pit" x="1878" y="418" width="31" height="45"/><rect class="aco" x="1909" y="418" width="31" height="45"/><text class="i" y="430.5"><tspan x="1893.5">2B Dam passage</tspan><tspan x="1893.5" dy="14">fallback and</tspan><tspan x="1893.5" dy="14">reaccension</tspan></text><text class="s" y="415.5"><tspan x="1863">SP</tspan><tspan x="1893">P</tspan><tspan x="1923">SP</tspan></text></g>
<g id="hy-2C"><rect class="rad" x="2007" y="448" width="29" height="30"/><rect class="pit" x="2036" y="448" width="30" height="30"/><rect class="aco" x="2066" y="448" width="30" height="30"/><text class="i" x="2051.5" y="467">2C Travel time</text><text class="s" y="487.5"><tspan x="2021">SP</tspan><tspan x="2052">P</tspan><tspan x="2082">SP</tspan></text></g>
<g id="hy-2A"><rect class="rad" x="1907" y="506" width="29" height="35"/><rect class="pit" x="1936" y="506" width="27" height="35"/><rect class="aco" x="1963" y="506" width="27" height="35"/><text class="i" y="520"><tspan x="1948.5">2A Dam</tspan><tspan x="1948.5" dy="15">passage delay</tspan></text><text class="s" y="550.5"><tspan x="1922">P</tspan><tspan x="1949">WS</tspan><tspan x="1976">P</tspan></text></g>
<g id="hy-3E"><rect class="rad" x="2014" y="548" width="30" height="30"/><rect class="pit" x="2044" y="548" width="28" height="30"/><rect class="aco" x="2072" y="548" width="30" height="30"/><text class="i" x="2058" y="567">3E Travel time</text><text class="s" y="588.5"><tspan x="2025">P</tspan><tspan x="2058">P</tspan><tspan x="2086">P</tspan></text></g>
<g id="hy-3Ga"><rect class="rad" x="2119" y="609" width="103" height="53"/><rect class="aco" x="2123" y="613" width="95" height="45"/><rect class="gen" x="2126" y="616" width="89" height="39"/><rect class="oto" x="2130" y="620" width="27" height="31"/><rect class="pit" x="2157" y="620" width="26" height="31"/><rect class="sca" x="2183" y="620" width="28" height="31"/><text class="i" y="632"><tspan x="2170.5">3G Migration</tspan><tspan x="2170.5" dy="15">Timing</tspan></text><text class="s" y="672.5"><tspan x="2142">SP</tspan><tspan x="2167">P</tspan><tspan x="2197">SP</tspan></text></g>
<g id="hy-3D"><rect class="rad" x="2415" y="482" width="28" height="39"/><rect class="pit" x="2443" y="482" width="25" height="39"/><rect class="aco" x="2468" y="482" width="28" height="39"/><text class="i" y="498"><tspan x="2455.5">3D Reach</tspan><tspan x="2455.5" dy="15">survival</tspan></text><text class="s" y="480.5"><tspan x="2426">P</tspan><tspan x="2456">P</tspan><tspan x="2490">P</tspan></text></g>
<g id="hy-3A"><rect class="gen" x="2480" y="543" width="81" height="41"/><rect class="pit" x="2484" y="547" width="73" height="33"/><text class="i" y="560"><tspan x="2520.5">3A Fish</tspan><tspan x="2520.5" dy="15">condition</tspan></text><text class="s" x="2521" y="538.5">P</text></g>
<g id="hy-4A"><rect class="lav" x="2625" y="518" width="30" height="46"/><rect class="pit" x="2655" y="518" width="29" height="46"/><rect class="aco" x="2684" y="518" width="31" height="46"/><text class="i" y="537.5"><tspan x="2670">4A Juvenile</tspan><tspan x="2670" dy="15">Survival</tspan></text><text class="s" y="573.5"><tspan x="2637">SP</tspan><tspan x="2668">P</tspan><tspan x="2698">SP</tspan></text></g>
<g id="hy-3F"><rect class="rad" x="2288" y="602" width="31" height="36"/><rect class="pit" x="2319" y="602" width="32" height="36"/><rect class="aco" x="2351" y="602" width="32" height="36"/><text class="i" y="616.5"><tspan x="2335.5">3F Juvenile dam</tspan><tspan x="2335.5" dy="15">passage delay</tspan></text><text class="s" y="647.5"><tspan x="2302">P</tspan><tspan x="2332">P</tspan><tspan x="2364">P</tspan></text></g>
<g id="hy-3C"><rect class="pit" x="2479" y="607" width="138" height="47"/><rect class="aco" x="2484" y="612" width="65" height="37"/><rect class="rad" x="2549" y="612" width="63" height="37"/><text class="i" y="627"><tspan x="2548">3C Route-specific</tspan><tspan x="2548" dy="15">survival</tspan></text><text class="s" y="605.5"><tspan x="2527">P</tspan><tspan x="2579">P</tspan></text></g>
<g id="hy-3B"><rect class="oto" x="2495" y="670" width="137" height="48"/><rect class="aco" x="2499" y="674" width="65" height="40"/><rect class="pit" x="2564" y="674" width="64" height="40"/><text class="i sm" y="683.5"><tspan x="2563.5">3B Bonneville through</tspan><tspan x="2563.5" dy="14">Estuary survival, behavior,</tspan><tspan x="2563.5" dy="14">and travel time</tspan></text></g>
<g id="hy-3Gb"><rect class="rad" x="2204" y="692" width="153" height="60"/><rect class="gen" x="2208" y="696" width="145" height="52"/><rect class="aco" x="2211" y="699" width="139" height="46"/><rect class="sca" x="2215" y="703" width="43" height="38"/><rect class="pit" x="2258" y="703" width="45" height="38"/><rect class="oto" x="2303" y="703" width="43" height="38"/><text class="i sm" y="711.5"><tspan x="2280.5">3G Migration timing</tspan><tspan x="2280.5" dy="14">(overwintering, residence</tspan><tspan x="2280.5" dy="14">time, in-season)</tspan></text><text class="s" y="689.5"><tspan x="2242">SP</tspan><tspan x="2282">P</tspan><tspan x="2326">SP</tspan></text></g>
<g id="hy-4E"><rect class="sca" x="2641" y="453" width="47" height="54"/><rect class="pit" x="2688" y="453" width="48" height="54"/><rect class="aco" x="2736" y="453" width="47" height="54"/><text class="i" y="469"><tspan x="2712">4E Post-hydrosystem</tspan><tspan x="2712" dy="15">juvenile behavior,</tspan><tspan x="2712" dy="15">survival, travel time</tspan></text><text class="s" y="451"><tspan x="2668">WS</tspan><tspan x="2712">SS</tspan><tspan x="2765">SP</tspan></text></g>
<g id="hy-4F"><rect class="pit" x="2595" y="394" width="81" height="37"/><text class="i" y="409"><tspan x="2635.5">4F Predation</tspan><tspan x="2635.5" dy="15">Rate</tspan></text><text class="s" x="2635" y="392.5">P</text></g>
<g id="hy-4D"><rect class="oto" x="2696" y="364" width="144" height="64"/><rect class="aco" x="2700" y="368" width="136" height="56"/><rect class="lav" x="2705" y="373" width="32" height="46"/><rect class="pit" x="2737" y="373" width="31" height="46"/><rect class="gen" x="2768" y="373" width="32" height="46"/><rect class="rad" x="2800" y="373" width="31" height="46"/><text class="i" y="392.5"><tspan x="2768">4D Tributary survival,</tspan><tspan x="2768" dy="15">straying rates</tspan></text><text class="s" y="362.5"><tspan x="2719">P</tspan><tspan x="2754">P</tspan><tspan x="2785">P</tspan><tspan x="2817">SP</tspan></text></g>
<g id="hy-4C"><rect class="gen" x="2501" y="268" width="151" height="51"/><rect class="rad" x="2505" y="272" width="143" height="43"/><text class="i" y="282.5" font-size="11"><tspan x="2576.5">4C Measuring physiological</tspan><tspan x="2576.5" dy="15">stressors and</tspan><tspan x="2576.5" dy="15">environmental conditions</tspan></text><text class="s" x="2569" y="264.5">P</text></g>
<g id="st-5F"><rect class="aco" x="2592" y="88" width="103" height="41"/><rect class="pit" x="2596" y="92" width="46" height="33"/><rect class="rad" x="2642" y="92" width="49" height="33"/><text class="i" y="105"><tspan x="2643.5">5F Adult</tspan><tspan x="2643.5" dy="15">lamprey passage</tspan></text><text class="s" y="86.5"><tspan x="2611">P</tspan><tspan x="2665">SP</tspan></text></g>
<g id="st-5E"><rect class="d" x="2705" y="45" width="116" height="45"/><text class="i sm" y="57"><tspan x="2763">5E Impingement</tspan><tspan x="2763" dy="14">rates of lampreys on</tspan><tspan x="2763" dy="14">fish bypass screen</tspan></text></g>
<g id="st-5D"><rect class="pit" x="2832" y="59" width="146" height="61"/><rect class="rad" x="2836" y="63" width="138" height="53"/><rect class="d" x="2840" y="67" width="130" height="45"/><text class="i sm" y="79"><tspan x="2905">5D Number of sturgeon</tspan><tspan x="2905" dy="14">trapped in draft tubes</tspan><tspan x="2905" dy="14">and in fishways</tspan></text></g>
<g id="st-5C"><rect class="oto" x="2800" y="141" width="160" height="62"/><rect class="gen" x="2803" y="144" width="154" height="56"/><rect class="rad" x="2807" y="148" width="146" height="48"/><rect class="aco" x="2811" y="152" width="138" height="40"/><rect class="pit" x="2815" y="156" width="130" height="32"/><text class="i" y="168.5"><tspan x="2880">5C Entrainment rates for</tspan><tspan x="2880" dy="15">sturgeon and lamprey</tspan></text><text class="s" x="2886" y="135.5">P</text></g>
<g id="st-5B"><rect class="gen" x="2828" y="220" width="145" height="67"/><rect class="oto" x="2832" y="224" width="137" height="59"/><rect class="aco" x="2835" y="227" width="131" height="53"/><rect class="pit" x="2839" y="231" width="58" height="46"/><rect class="rad" x="2897" y="231" width="62" height="46"/><text class="i" y="242.5"><tspan x="2899">5B Passage numbers</tspan><tspan x="2899" dy="15">and directions for</tspan><tspan x="2899" dy="15">sturgeon and lamprey</tspan></text><text class="s" y="217.5"><tspan x="2870">SS</tspan><tspan x="2928">SP</tspan></text></g>
<g id="st-5A"><rect class="pit" x="2817" y="306" width="68" height="32"/><rect class="gen" x="2885" y="306" width="67" height="32"/><text class="i" y="318.5"><tspan x="2884.5">5A Age one recruitment</tspan><tspan x="2884.5" dy="15">for sturgeon</tspan></text><text class="s" y="304.5"><tspan x="2866">SP</tspan><tspan x="2907">SP</tspan></text></g>

<!-- Habitat indicators -->
<g id="hb-1H"><rect class="gen" x="1954" y="861" width="138" height="39"/><rect class="pit" x="1957" y="864" width="44" height="33"/><rect class="sca" x="2001" y="864" width="44" height="33"/><rect class="oto" x="2045" y="864" width="44" height="33"/><text class="i" y="877"><tspan x="2023">1H Juvenile Salmonid</tspan><tspan x="2023" dy="15">growth rates</tspan></text><text class="s" y="857.5"><tspan x="1977">P</tspan><tspan x="2023">WS</tspan><tspan x="2069">WS</tspan></text></g>
<g id="hb-1D"><rect class="rad" x="1819" y="900" width="25" height="32"/><rect class="pit" x="1844" y="900" width="24" height="32"/><rect class="lav" x="1868" y="900" width="24" height="32"/><rect class="gen" x="1892" y="900" width="25" height="32"/><rect class="adi" x="1917" y="900" width="24" height="32"/><text class="i" x="1880" y="920">1D Fish in</text><text class="s" y="892.5"><tspan x="1827">P</tspan><tspan x="1857">P</tspan><tspan x="1881">SP</tspan><tspan x="1907">WS</tspan><tspan x="1928">SP</tspan></text></g>
<g id="hb-1B"><rect class="gen" x="1635" y="945" width="51" height="44"/><rect class="pit" x="1686" y="945" width="50" height="44"/><rect class="adi" x="1736" y="945" width="50" height="44"/><text class="i" y="956"><tspan x="1710.5">1B Relationship of</tspan><tspan x="1710.5" dy="15">tributary habitat actions</tspan><tspan x="1710.5" dy="15">and production</tspan></text><text class="s" y="941.5"><tspan x="1665">WS</tspan><tspan x="1712">P</tspan><tspan x="1763">WS</tspan></text></g>
<g id="hb-1I"><rect class="aco" x="2056" y="940" width="24" height="43"/><rect class="pit" x="2080" y="940" width="21" height="43"/><rect class="gen" x="2101" y="940" width="22" height="43"/><rect class="rad" x="2123" y="940" width="22" height="43"/><text class="i" y="958"><tspan x="2100.5">1I Patterns of</tspan><tspan x="2100.5" dy="15">movement</tspan></text><text class="s" y="937.5"><tspan x="2069">SP</tspan><tspan x="2089">P</tspan><tspan x="2113">WS</tspan><tspan x="2133">P</tspan></text></g>
<g id="hb-1K"><rect class="rad" x="2153" y="967" width="99" height="45"/><rect class="aco" x="2156" y="970" width="93" height="39"/><rect class="sca" x="2162" y="975" width="26" height="29"/><rect class="pit" x="2188" y="975" width="28" height="29"/><rect class="oto" x="2216" y="975" width="29" height="29"/><text class="i" x="2202.5" y="993.5">1K Residency</text><text class="s" y="963.5"><tspan x="2173">SP</tspan><tspan x="2199">P</tspan><tspan x="2229">SP</tspan></text></g>
<g id="hb-1J"><rect class="gen" x="2162" y="1069" width="97" height="50"/><rect class="aco" x="2166" y="1073" width="89" height="42"/><rect class="pit" x="2170" y="1077" width="40" height="34"/><rect class="rad" x="2210" y="1077" width="41" height="34"/><text class="i" y="1090.5"><tspan x="2210.5">1J Patterns of</tspan><tspan x="2210.5" dy="15">timing</tspan></text><text class="s" y="1067.5"><tspan x="2188">P</tspan><tspan x="2229">SP</tspan></text></g>
<g id="hb-3B"><rect class="pit" x="1500" y="1023" width="44" height="44"/><rect class="gen" x="1544" y="1023" width="44" height="44"/><text class="i" y="1041.5"><tspan x="1544">3B Juvenile</tspan><tspan x="1544" dy="15">Productivity</tspan></text><text class="s" y="1021.5"><tspan x="1515">P</tspan><tspan x="1567">WS</tspan></text></g>
<g id="hb-1E"><rect class="sca" x="1716" y="1022" width="90" height="43"/><rect class="pit" x="1720" y="1026" width="41" height="35"/><rect class="gen" x="1761" y="1026" width="41" height="35"/><text class="i" x="1761" y="1047.5">1E Fish Out</text><text class="s" y="1019.5"><tspan x="1732">P</tspan><tspan x="1784">WS</tspan></text></g>
<g id="hb-1F"><rect class="pit" x="1661" y="1085" width="49" height="48"/><rect class="rad" x="1710" y="1085" width="49" height="48"/><text class="i" y="1098"><tspan x="1710">1F Post-</tspan><tspan x="1710" dy="15">hydrosystem</tspan><tspan x="1710" dy="15">adult survival</tspan></text><text class="s" y="1083.5"><tspan x="1687">P</tspan><tspan x="1728">P</tspan></text></g>
<g id="hb-1C"><rect class="pit" x="1550" y="1155" width="35" height="39"/><rect class="lav" x="1585" y="1155" width="32" height="39"/><rect class="gen" x="1617" y="1155" width="34" height="39"/><rect class="rad" x="1651" y="1155" width="33" height="39"/><text class="i" y="1171"><tspan x="1617">1C Spawning</tspan><tspan x="1617" dy="15">distribution</tspan></text><text class="s" y="1153.5"><tspan x="1564">P</tspan><tspan x="1602">SP</tspan><tspan x="1635">WS</tspan><tspan x="1668">SP</tspan></text></g>
<g id="hb-1A"><rect class="pit" x="1630" y="1211" width="35" height="40"/><rect class="lav" x="1665" y="1211" width="32" height="40"/><rect class="gen" x="1697" y="1211" width="33" height="40"/><rect class="adi" x="1730" y="1211" width="34" height="40"/><text class="i" y="1227.5"><tspan x="1697">1A Juvenile production</tspan><tspan x="1697" dy="15">in tributary</tspan></text><text class="s" y="1209.5"><tspan x="1645">P</tspan><tspan x="1683">SP</tspan><tspan x="1715">WS</tspan><tspan x="1750">WS</tspan></text></g>
<g id="hb-1G"><rect class="pit" x="1744" y="1272" width="49" height="47"/><rect class="rad" x="1793" y="1272" width="49" height="47"/><text class="i" y="1292"><tspan x="1793">1G Rearing</tspan><tspan x="1793" dy="15">distribution</tspan></text><text class="s" y="1270.5"><tspan x="1770">P</tspan><tspan x="1813">SP</tspan></text></g>
<g id="hb-2D"><rect class="pit" x="2174" y="856" width="32" height="42"/><rect class="aco" x="2206" y="856" width="32" height="42"/><rect class="rad" x="2238" y="856" width="31" height="42"/><text class="i" y="873.5"><tspan x="2221.5">2D Migration</tspan><tspan x="2221.5" dy="15">timing</tspan></text><text class="s" y="852.5"><tspan x="2194">P</tspan><tspan x="2220">SP</tspan><tspan x="2252">SP</tspan></text></g>
<g id="hb-2H"><rect class="pit" x="2339" y="798" width="66" height="47"/><rect class="gen" x="2405" y="798" width="68" height="47"/><text class="i" y="810.5"><tspan x="2406">2H Estuary distribution</tspan><tspan x="2406" dy="15">and habitat</tspan><tspan x="2406" dy="15">associations by stock</tspan></text><text class="s" y="794.5"><tspan x="2367">P</tspan><tspan x="2438">P</tspan></text></g>
<g id="hb-2B"><rect class="aco" x="2512" y="762" width="52" height="45"/><rect class="sca" x="2564" y="762" width="50" height="45"/><rect class="pit" x="2614" y="762" width="51" height="45"/><text class="i" y="773.5"><tspan x="2588.5">2B Salmon and steelhead</tspan><tspan x="2588.5" dy="15">smolt survival from BON</tspan><tspan x="2588.5" dy="15">through estuary</tspan></text><text class="s" y="758.5"><tspan x="2541">SP</tspan><tspan x="2587">WS</tspan><tspan x="2633">SS</tspan></text></g>
<g id="hb-2K"><rect class="oto" x="2635" y="854" width="51" height="45"/><rect class="sca" x="2686" y="854" width="51" height="45"/><rect class="pit" x="2737" y="854" width="50" height="45"/><text class="i" y="873"><tspan x="2711">2K Estuarine life histories</tspan><tspan x="2711" dy="15">among returning adults</tspan></text><text class="s" y="851.5"><tspan x="2663">SP</tspan><tspan x="2709">WS</tspan><tspan x="2756">P</tspan></text></g>
<g id="hb-2I"><rect class="pit" x="2495" y="881" width="98" height="36"/><text class="i" x="2544" y="903">2I Fish density</text><text class="s" x="2544" y="879.5">P</text></g>
<g id="hb-2C"><rect class="pit" x="2286" y="916" width="31" height="54"/><rect class="oto" x="2317" y="916" width="31" height="54"/><rect class="sca" x="2348" y="916" width="32" height="54"/><text class="i" y="932"><tspan x="2333">2C Juvenile</tspan><tspan x="2333" dy="15">salmonid</tspan><tspan x="2333" dy="15">growth rates</tspan></text><text class="s" y="912.5"><tspan x="2306">P</tspan><tspan x="2331">SP</tspan><tspan x="2363">SP</tspan></text></g>
<g id="hb-2A"><rect class="pit" x="2576" y="952" width="43" height="35"/><rect class="gen" x="2619" y="952" width="44" height="35"/><text class="i" y="966"><tspan x="2619.5">2A Life history</tspan><tspan x="2619.5" dy="15">diversity index</tspan></text><text class="s" y="950.5"><tspan x="2605">P</tspan><tspan x="2640">P</tspan></text></g>
<g id="hb-3A"><rect class="gen" x="2717" y="969" width="93" height="39"/><rect class="oto" x="2721" y="973" width="43" height="31"/><rect class="aco" x="2764" y="973" width="42" height="31"/><text class="i" y="985"><tspan x="2763.5">3A Length of</tspan><tspan x="2763.5" dy="15">time</tspan></text><text class="s" y="967.5"><tspan x="2740">WS</tspan><tspan x="2781">P</tspan></text></g>
<g id="hb-3B2"><rect class="gen" x="2844" y="957" width="105" height="45"/><rect class="lav" x="2848" y="961" width="97" height="37"/><rect class="oto" x="2851" y="964" width="29" height="31"/><rect class="pit" x="2880" y="964" width="32" height="31"/><rect class="sca" x="2912" y="964" width="30" height="31"/><text class="i" x="2896.5" y="983.5">3B Growth rate</text><text class="s" y="955.5"><tspan x="2858">P</tspan><tspan x="2899">WS</tspan><tspan x="2929">WS</tspan></text></g>
<g id="hb-3F"><rect class="gen" x="2638" y="1015" width="44" height="35"/><rect class="lav" x="2682" y="1015" width="43" height="35"/><text class="i" x="2681.5" y="1036.5">3F Maturation</text><text class="s" y="1013.5"><tspan x="2659">WS</tspan><tspan x="2700">P</tspan></text></g>
<g id="hb-3Di"><rect class="aco" x="2828" y="1014" width="105" height="54"/><text class="i" y="1030"><tspan x="2880.5">3D(i) Plume life</tspan><tspan x="2880.5" dy="15">histories among</tspan><tspan x="2880.5" dy="15">returning adults</tspan></text><text class="s" x="2870" y="1012">SP</text></g>
<g id="hb-2E"><rect class="pit" x="2535" y="1049" width="30" height="37"/><rect class="aco" x="2565" y="1049" width="32" height="37"/><rect class="gen" x="2597" y="1049" width="33" height="37"/><text class="i" y="1064"><tspan x="2582.5">2E Patterns of</tspan><tspan x="2582.5" dy="15">movement</tspan></text><text class="s" y="1047"><tspan x="2557">SP</tspan><tspan x="2582">SP</tspan><tspan x="2612">WS</tspan></text></g>
<g id="hb-3Dii"><rect class="gen" x="2795" y="1082" width="119" height="53"/><rect class="lav" x="2799" y="1086" width="27" height="45"/><rect class="pit" x="2826" y="1086" width="28" height="45"/><rect class="oto" x="2854" y="1086" width="27" height="45"/><rect class="sca" x="2881" y="1086" width="29" height="45"/><text class="i" y="1097.5"><tspan x="2854.5">3D (ii) Ocean life</tspan><tspan x="2854.5" dy="15">histories among</tspan><tspan x="2854.5" dy="15">returning adults</tspan></text><text class="s" y="1080.5"><tspan x="2816">P</tspan><tspan x="2837">P</tspan><tspan x="2869">SP</tspan><tspan x="2891">P</tspan></text></g>
<g id="hb-3E"><rect class="pit" x="2872" y="1149" width="43" height="35"/><rect class="lav" x="2915" y="1149" width="45" height="35"/><text class="i" y="1163"><tspan x="2916">3E</tspan><tspan x="2916" dy="15">Productivity</tspan></text><text class="s" y="1147"><tspan x="2888">P</tspan><tspan x="2937">SP</tspan></text></g>
<g id="hb-3C"><rect class="aco" x="2735" y="1173" width="100" height="43"/><rect class="wht" x="2739" y="1177" width="92" height="35"/><rect class="d" x="2743" y="1180" width="84" height="29"/><text class="i" x="2785" y="1198.5">3C Predation</text></g>

<!-- Population indicators -->
<g id="ps-1B"><rect class="oto" x="105" y="822" width="103" height="43"/><rect class="lav" x="109" y="826" width="24" height="35"/><rect class="pit" x="133" y="826" width="24" height="35"/><rect class="gen" x="157" y="826" width="24" height="35"/><rect class="sca" x="181" y="826" width="23" height="35"/><text class="i" x="156.5" y="847.5">1B Diversity</text><text class="s" y="819.5"><tspan x="123">WS</tspan><tspan x="145">SS</tspan><tspan x="166">P</tspan><tspan x="194">SS</tspan></text></g>
<g id="ps-1D"><rect class="oto" x="324" y="809" width="79" height="42"/><rect class="lav" x="328" y="813" width="24" height="34"/><rect class="pit" x="352" y="813" width="23" height="34"/><rect class="gen" x="375" y="813" width="24" height="34"/><text class="i" y="826.5"><tspan x="363.5">1D</tspan><tspan x="363.5" dy="15">Productivity</tspan></text><text class="s" y="807.5"><tspan x="343">P</tspan><tspan x="363">P</tspan><tspan x="391">SS</tspan></text></g>
<g id="ps-1C"><rect class="lav" x="216" y="874" width="26" height="40"/><rect class="pit" x="242" y="874" width="23" height="40"/><rect class="rad" x="265" y="874" width="24" height="40"/><rect class="aco" x="289" y="874" width="24" height="40"/><text class="i" y="890.5"><tspan x="264.5">1C Spatial</tspan><tspan x="264.5" dy="15">distribution</tspan></text><text class="s" y="870.5"><tspan x="228">WS</tspan><tspan x="255">WS</tspan><tspan x="279">WS</tspan><tspan x="303">WS</tspan></text></g>
<g id="ps-1A"><rect class="lav" x="18" y="903" width="25" height="40"/><rect class="pit" x="43" y="903" width="24" height="40"/><rect class="gen" x="67" y="903" width="24" height="40"/><rect class="adi" x="91" y="903" width="25" height="40"/><text class="i" x="67" y="927">1A Abundance</text><text class="s" y="901"><tspan x="32">WS</tspan><tspan x="54">SS</tspan><tspan x="75">SS</tspan><tspan x="99">P</tspan></text></g>
<g id="ps-2B"><rect class="pit" x="612" y="771" width="38" height="37"/><rect class="aco" x="650" y="771" width="36" height="37"/><rect class="rad" x="686" y="771" width="38" height="37"/><text class="i" y="786"><tspan x="668">2B Smolt tributary</tspan><tspan x="668" dy="15">to estuary</tspan></text><text class="s" y="767.5"><tspan x="631">P</tspan><tspan x="664">P</tspan><tspan x="700">P</tspan></text></g>
<g id="ps-2C"><rect class="aco" x="538" y="866" width="102" height="42"/><rect class="lav" x="542" y="870" width="94" height="34"/><text class="i" y="883.5"><tspan x="589">2C First year</tspan><tspan x="589" dy="15">ocean survival</tspan></text><text class="s" x="589" y="860.5">P</text></g>
<g id="ps-2H"><rect class="lav" x="660" y="871" width="25" height="36"/><rect class="pit" x="685" y="871" width="23" height="36"/><rect class="gen" x="708" y="871" width="23" height="36"/><rect class="sca" x="731" y="871" width="22" height="36"/><rect class="oto" x="753" y="871" width="24" height="36"/><text class="i" y="885.5"><tspan x="718.5">2H Recruit to</tspan><tspan x="718.5" dy="15">spawner</tspan></text><text class="s" y="869.5"><tspan x="672">P</tspan><tspan x="694">P</tspan><tspan x="718">SS</tspan><tspan x="740">P</tspan><tspan x="766">SP</tspan></text></g>
<g id="ps-2D"><rect class="aco" x="787" y="811" width="125" height="42"/><rect class="pit" x="790" y="814" width="60" height="36"/><rect class="lav" x="850" y="814" width="59" height="36"/><text class="i" y="828.5"><tspan x="849.5">2D First year ocean</tspan><tspan x="849.5" dy="15">survival to maturity</tspan></text><text class="s" y="805.5"><tspan x="820">SP</tspan><tspan x="875">P</tspan></text></g>
<g id="ps-2A"><rect class="oto" x="422" y="913" width="109" height="50"/><rect class="wht" x="426" y="917" width="101" height="42"/><rect class="d" x="429" y="920" width="95" height="36"/><text class="i" x="476.5" y="942">2A Fry-to-smolt</text></g>
<g id="ps-2E"><rect class="pit" x="809" y="893" width="181" height="69"/><rect class="aco" x="813" y="897" width="173" height="61"/><rect class="rad" x="817" y="901" width="165" height="53"/><rect class="wht" x="821" y="905" width="157" height="45"/><rect class="d" x="824" y="908" width="151" height="39"/><text class="i" y="924"><tspan x="899.5">2E Adult spawning</tspan><tspan x="899.5" dy="15">migration from estuary up</tspan></text></g>
<g id="ps-2G"><rect class="rad" x="779" y="993" width="89" height="51"/><rect class="aco" x="783" y="997" width="81" height="43"/><rect class="pit" x="786" y="1000" width="75" height="37"/><text class="i" y="1015"><tspan x="823.5">2G Parr to</tspan><tspan x="823.5" dy="15">smolt</tspan></text><text class="s" x="818" y="990.5">P</text></g>

<!-- Hatchery indicators -->
<g id="ht-2B3E"><rect class="gen" x="1240" y="929" width="179" height="48"/><text class="i" y="942"><tspan x="1329.5">2B, 3E Reproductive success of</tspan><tspan x="1329.5" dy="15">hatchery-origin fish compared</tspan><tspan x="1329.5" dy="15">to natural origin fish</tspan></text><text class="s" x="1331" y="923.5">P</text></g>
<g id="ht-2A3D"><rect class="lav" x="1072" y="995" width="34" height="48"/><rect class="pit" x="1106" y="995" width="31" height="48"/><rect class="gen" x="1137" y="995" width="32" height="48"/><rect class="adi" x="1169" y="995" width="32" height="48"/><rect class="sca" x="1201" y="995" width="34" height="48"/><text class="i" y="1008" font-size="11"><tspan x="1153.5">2A, 3D Proportion and origin</tspan><tspan x="1153.5" dy="15">of hatchery fish within natural</tspan><tspan x="1153.5" dy="15">spawning populations</tspan></text><text class="s" y="992.5"><tspan x="1091">P</tspan><tspan x="1121">WS</tspan><tspan x="1150">SS</tspan><tspan x="1180">P</tspan><tspan x="1213">SP</tspan></text></g>
<g id="ht-3A"><rect class="lav" x="1357" y="996" width="31" height="41"/><rect class="gen" x="1388" y="996" width="28" height="41"/><rect class="pit" x="1416" y="996" width="30" height="41"/><rect class="adi" x="1446" y="996" width="31" height="41"/><text class="i" y="1013"><tspan x="1417">3A Adult</tspan><tspan x="1417" dy="15">Abundance</tspan></text><text class="s" y="994.5"><tspan x="1371">P</tspan><tspan x="1404">WS</tspan><tspan x="1430">WS</tspan><tspan x="1455">P</tspan></text></g>
<g id="ht-1B"><rect class="lav" x="959" y="1072" width="34" height="40"/><rect class="gen" x="993" y="1072" width="32" height="40"/><rect class="pit" x="1025" y="1072" width="32" height="40"/><rect class="adi" x="1057" y="1072" width="34" height="40"/><text class="i" y="1088.5"><tspan x="1025">1B Adult harvest/</tspan><tspan x="1025" dy="15">returns/escapement</tspan></text><text class="s" y="1069.5"><tspan x="977">P</tspan><tspan x="1007">SS</tspan><tspan x="1039">WS</tspan><tspan x="1069">SS</tspan></text></g>
<g id="ht-1A"><rect class="pit" x="842" y="1119" width="112" height="37"/><text class="i" y="1134"><tspan x="898">1A Juvenile/Smolt</tspan><tspan x="898" dy="15">production</tspan></text><text class="s" x="895" y="1115.5">P</text></g>
<g id="ht-1C"><rect class="lav" x="836" y="1204" width="29" height="39"/><rect class="pit" x="865" y="1204" width="29" height="39"/><rect class="gen" x="894" y="1204" width="30" height="39"/><rect class="oto" x="924" y="1204" width="30" height="39"/><text class="i" y="1220"><tspan x="895">1C Juvenile to adult</tspan><tspan x="895" dy="15">survival rates</tspan></text><text class="s" y="1200.5"><tspan x="851">P</tspan><tspan x="881">WS</tspan><tspan x="905">SS</tspan><tspan x="935">SP</tspan></text></g>

<!-- Legend -->
<g id="legend-importance">
<text class="lg" x="2412" y="1247" font-size="15" font-weight="bold">Tag Importance to Indicator</text>
<text class="lg" x="2412" y="1264"><tspan font-weight="bold">P</tspan>=primary</text>
<text class="lg" x="2412" y="1282"><tspan font-weight="bold">SS</tspan>=secondary but currently critical  and/</text>
<text class="lg" x="2412" y="1300">or emerging primary</text>
<text class="lg" x="2412" y="1318"><tspan font-weight="bold">WS</tspan>=secondary but not currently critical</text>
<text class="lg" x="2412" y="1336"><tspan font-weight="bold">F</tspan>= future</text>
<text class="lg" x="2412" y="1353"><tspan font-weight="bold">SP</tspan>=specialized use</text>
<text class="lg" x="2412" y="1370"><tspan font-weight="bold">NA</tspan>=not applicable</text>
</g>
<g id="legend-key">
<rect x="2663" y="1238" width="321" height="150" fill="#fff" stroke="#888" stroke-width="1.2"/>
<text class="lg" x="2671" y="1270" font-size="15" font-weight="bold">Key: Tag Type</text>
<rect class="gen kb" x="2782" y="1256" width="88" height="36"/><text class="kt" x="2826" y="1280">Genetic</text>
<rect class="oto kb" x="2883" y="1256" width="89" height="36"/><text class="kt" x="2927.5" y="1280">Otolith</text>
<rect class="aco kb" x="2677" y="1298" width="88" height="36"/><text class="kt" x="2721" y="1322">Acoustic</text>
<rect class="rad kb" x="2782" y="1298" width="88" height="36"/><text class="kt" x="2826" y="1322">Radio</text>
<rect class="adi kb" x="2885" y="1298" width="88" height="36"/><text class="kt" x="2929" y="1322">Adipose</text>
<rect class="pit kb" x="2677" y="1341" width="88" height="40"/><text class="kt" x="2721" y="1367">PIT</text>
<rect class="d" x="2783" y="1339" width="88" height="40"/><text class="kt" font-size="14" y="1354"><tspan x="2827">No current</tspan><tspan x="2827" dy="17">technologies</tspan></text>
<rect class="sca kb" x="2885" y="1339" width="88" height="40"/><text class="kt" x="2929" y="1366">Scales</text>
</g>
</svg>
